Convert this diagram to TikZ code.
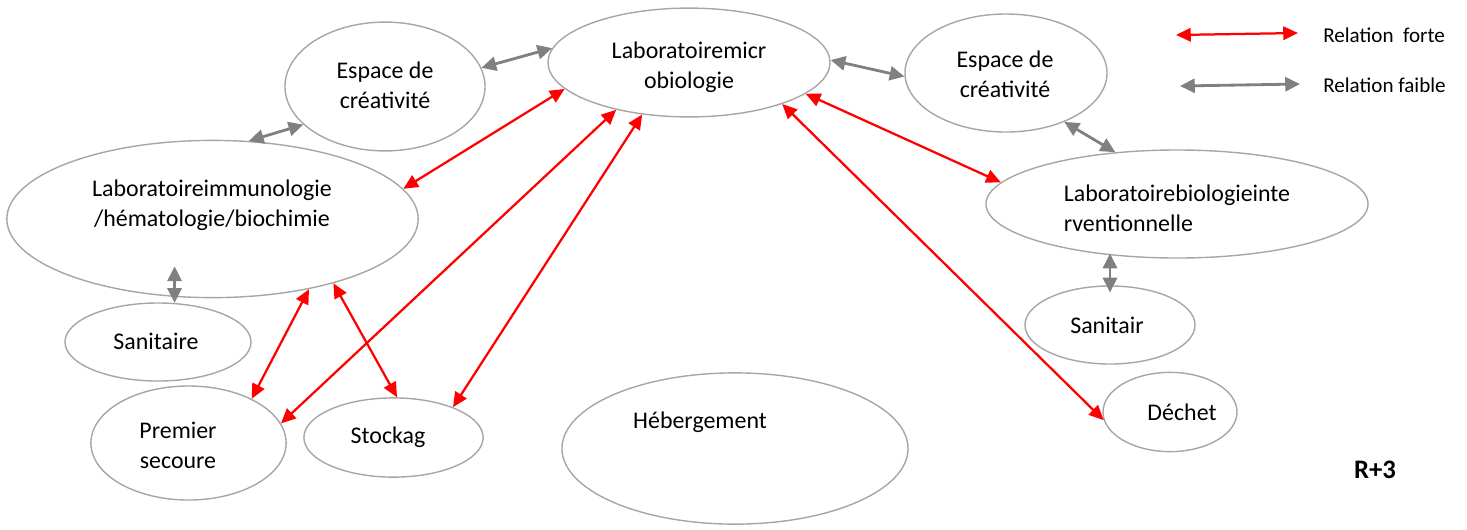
\documentclass[tikz,border=0pt]{standalone}
\usepackage{fontspec}
\setmainfont{Carlito}
\usetikzlibrary{shapes.geometric,arrows.meta}

\begin{document}
\begin{tikzpicture}[x=0.025cm, y=-0.025cm,
    zone/.style={ellipse, draw=black!35, line width=1pt, inner sep=0pt},
    lbl/.style={font=\fontsize{17}{21.5}\selectfont, align=center, inner sep=0pt},
    legende/.style={font=\fontsize{15}{18}\selectfont, anchor=west, inner sep=0pt},
    forte/.style={{Triangle[length=10.5pt,width=9.5pt]}-{Triangle[length=10.5pt,width=9.5pt]}, red, line width=1.6pt},
    faible/.style={{Triangle[length=10.5pt,width=10pt]}-{Triangle[length=10.5pt,width=10pt]}, black!50, line width=2pt}]
    \useasboundingbox (0,0) rectangle (1467,529);

    % Zones du haut
    \node[zone, minimum width=5cm, minimum height=3.22cm] (espL) at (385,86.5) {};
    \node[lbl] (espL-t) at (385,85) {Espace de\\créativité};
    \node[zone, minimum width=7.05cm, minimum height=2.72cm] (micro) at (689,62.5) {};
    \node[lbl] (micro-t) at (689,67) {Laboratoiremicr\\obiologie};
    \node[zone, minimum width=5.05cm, minimum height=2.95cm] (espR) at (1006,73) {};
    \node[lbl] (espR-t) at (1005,74) {Espace de\\créativité};

    % Zones de gauche
    \node[zone, minimum width=10.28cm, minimum height=3.93cm] (immuno) at (212.5,219) {};
    \node[lbl] (immuno-t) at (212,205) {Laboratoireimmunologie\\/hématologie/biochimie};
    \node[zone, minimum width=4.65cm, minimum height=1.95cm] (sanL) at (158,342) {};
    \node[lbl] (sanL-t) at (156,341) {Sanitaire};
    \node[zone, minimum width=4.88cm, minimum height=2.85cm] (premier) at (188.5,443) {};
    \node[lbl] (premier-t) at (178,445) {Premier\\secoure};
    \node[zone, minimum width=4.48cm, minimum height=1.98cm] (stock) at (393.5,437.5) {};
    \node[lbl] (stock-t) at (388,437) {Stockag};
    \node[zone, minimum width=8.65cm, minimum height=3.78cm] (heberg) at (735,448.5) {};
    \node[lbl] (heberg-t) at (700,422) {Hébergement};

    % Zones de droite
    \node[zone, minimum width=9.55cm, minimum height=2.7cm] (bio) at (1177,204) {};
    \node[lbl, align=left] (bio-t) at (1177,208) {Laboratoirebiologieinte\\rventionnelle};
    \node[zone, minimum width=4.25cm, minimum height=1.95cm] (sanR) at (1110,325) {};
    \node[lbl] (sanR-t) at (1107,325) {Sanitair};
    \node[zone, minimum width=3.35cm, minimum height=1.98cm] (dechet) at (1170,412) {};
    \node[lbl] (dechet-t) at (1182,412) {Déchet};

    % Relations faibles
    \draw[faible] (espL.11) -- (micro.174);
    \draw[faible] (espL.205) -- (immuno.65);
    \draw[faible] (micro.1) -- (espR.182);
    \draw[faible] (espR.-40) -- (bio.140);
    \draw[faible, shorten >=-0.8cm] (sanL.67) -- (sanL.67 |- immuno.south);
    \draw[faible, shorten <=-0.18cm, shorten >=-0.13cm] (sanR.north) -- (sanR.north |- bio.south);

    % Relations fortes
    \draw[forte] (micro.192.5) -- (immuno.9);
    \draw[forte] (micro.213) -- (premier.12);
    \draw[forte] (micro.228.5) -- (stock.27);
    \draw[forte] (micro.-15) -- (bio.173);
    \draw[forte] (micro.-24) -- (dechet.187);
    \draw[forte] (immuno.-36) -- (premier.35);
    \draw[forte] (immuno.-28) -- (stock.85);

    % Legende
    \coordinate (f1) at (1176,35);
    \coordinate (f2) at (1298,33);
    \coordinate (g1) at (1180,86);
    \coordinate (g2) at (1300,84);
    \draw[forte] (f1) -- (f2);
    \draw[faible] (g1) -- (g2);
    \node[legende] (forte-t) at (1323,35) {Relation\ \ forte};
    \node[legende] (faible-t) at (1323,85) {Relation faible};

    \node[font=\fontsize{19}{22}\selectfont\bfseries] (niveau) at (1375,470) {R+3};
\end{tikzpicture}
\end{document}
